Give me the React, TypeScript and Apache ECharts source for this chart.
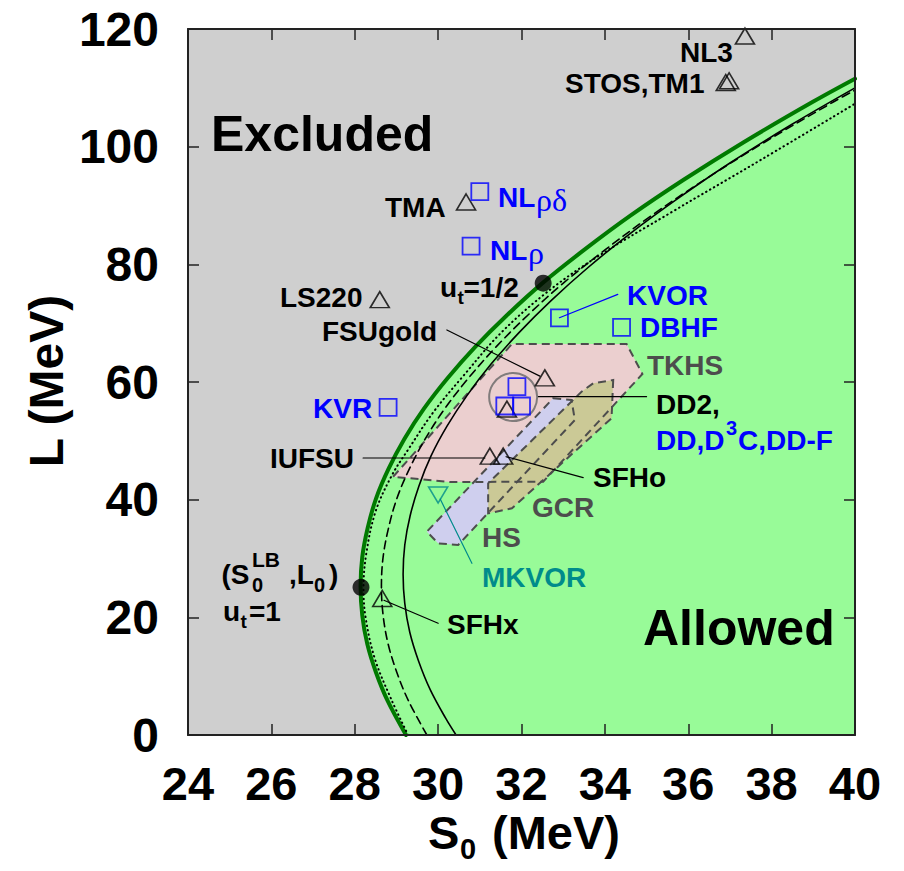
import React, { useEffect, useRef } from "react";
import * as echarts from "echarts";

// ---------------- data (S0 [MeV], L [MeV]) ----------------
const X_MIN = 24;
const X_MAX = 40;
const X_STEP = 2;
const Y_MIN = 0;
const Y_MAX = 120;
const Y_STEP = 20;

// unitary-gas lower bound (thick green)
const greenBound: number[][] = [
  [29.23, 0], [28.79, 5.79], [28.51, 10.63], [28.3, 15.49], [28.18, 20.37], [28.14, 25.28],
  [28.18, 30.22], [28.31, 35.18], [28.51, 40.19], [28.81, 45.23], [29.19, 50.32], [29.66, 55.47],
  [30.23, 60.68], [30.89, 65.97], [31.65, 71.35], [32.51, 76.85], [33.51, 82.49], [34.62, 88.31],
  [35.89, 94.37], [37.33, 100.76], [38.99, 107.63], [40.0, 111.55],
];
const solidCurve: number[][] = [
  [30.43, 0], [30.18, 2.86], [29.81, 7.71], [29.53, 12.58], [29.32, 17.46], [29.2, 22.38],
  [29.16, 27.32], [29.2, 32.29], [29.33, 37.3], [29.54, 42.34], [29.83, 47.43], [30.22, 52.57],
  [30.7, 57.77], [31.27, 63.04], [31.94, 68.39], [32.71, 73.84], [33.59, 79.42], [34.59, 85.15],
  [35.73, 91.08], [37.01, 97.26], [38.49, 103.81], [40.0, 110.0],
];
const dashedCurve: number[][] = [
  [29.73, 0], [29.29, 5.79], [29.01, 10.63], [28.8, 15.49], [28.68, 20.37], [28.64, 25.28],
  [28.68, 30.22], [28.81, 35.18], [29.01, 40.19], [29.31, 45.23], [29.69, 50.32], [30.16, 55.47],
  [30.73, 60.68], [31.39, 65.97], [32.15, 71.35], [33.01, 76.85], [34.01, 82.49], [35.12, 88.31],
  [36.39, 94.37], [37.83, 100.76], [39.49, 107.63], [40.0, 109.6],
];
const dottedCurve: number[][] = [
  [29.28, 0], [28.88, 6], [28.48, 13], [28.26, 20], [28.21, 25], [28.28, 31], [28.5, 38],
  [28.88, 44], [29.27, 48.4], [29.9, 55], [30.6, 61], [31.5, 68.3], [32.6, 75.2], [33.8, 81.2],
  [35.56, 88.7], [37.8, 98.0], [40.0, 107.3],
];

// shaded constraint regions
const tkhsRegion: number[][] = [
  [28.92, 43.9], [31.77, 66.46], [34.52, 66.46], [34.9, 61.36], [32.52, 43.05], [30.28, 43.0],
];
const hsRegion: number[][] = [
  [32.76, 57.23], [33.2, 56.94], [33.28, 53.54], [30.48, 32.3], [30.0, 32.58], [29.73, 34.56],
];
const gcrRegion: number[][] = [
  [34.2, 60.34], [34.16, 53.83], [31.77, 38.53], [31.2, 37.68], [31.2, 42.78], [33.44, 58.35], [33.72, 59.78],
];

// models
const triangleModels: number[][] = [
  [37.36, 118.8], // NL3
  [36.9, 110.9], // STOS
  [36.98, 111.2], // TM1
  [30.67, 90.6], // TMA
  [28.6, 74.0], // LS220
  [32.56, 60.7], // FSUgold
  [31.65, 55.4], // DD2
  [31.24, 47.4], // IUFSU
  [31.56, 47.4], // SFHo
  [28.66, 23.2], // SFHx
];
const squareModels: number[][] = [
  [31.0, 92.35], // NL rho delta
  [30.79, 83.1], // NL rho
  [32.91, 70.9], // KVOR
  [34.4, 69.3], // DBHF
  [28.8, 55.7], // KVR
  [31.89, 59.2], // DD
  [31.6, 55.92], // D3C
  [32.0, 55.92], // DD-F
];
const mkvorPoint: number[][] = [[30.0, 40.8]];
const utPoints: number[][] = [[28.15, 25.1], [32.52, 76.8]];
const clusterCircle: number[][] = [[31.8, 57.45]];

const leaderFSUgold: number[][] = [[30.21, 68.84], [32.44, 61.0]];
const leaderKVOR: number[][] = [[34.31, 74.9], [32.91, 70.93]];
const leaderDD2: number[][] = [[32.4, 57.5], [35.0, 57.5]];
const leaderIUFSU: number[][] = [[28.2, 47.08], [31.12, 47.08]];
const leaderSFHo: number[][] = [[33.48, 43.74], [31.63, 47.3]];
const leaderMKVOR: number[][] = [[30.05, 40.1], [30.81, 29.18]];
const leaderSFHx: number[][] = [[30.0, 18.99], [28.7, 22.9]];

// ---------------- chart ----------------
const FONT = '"Liberation Sans", Arial, Helvetica, sans-serif';
const SERIF = '"Liberation Serif", "DejaVu Serif", serif';
const BLUE = "#0000ff";
const TEAL = "#008b8b";
const GREY_TXT = "#4d4d4d";

function polygonSeries(points: number[][], style: any, z: number) {
  return {
    type: "custom",
    silent: true,
    z,
    clip: true,
    data: points,
    renderItem: (params: any, api: any) => {
      if (params.dataIndex !== 0) return null;
      const pts = points.map((p) => api.coord(p));
      return { type: "polygon", shape: { points: pts }, style };
    },
  };
}

function lineSeries(data: number[][], color: string, width: number, type: any, z: number, smooth: number | boolean = 0.35) {
  return {
    type: "line",
    data,
    silent: true,
    z,
    clip: true,
    symbol: "none",
    showSymbol: false,
    smooth,
    animation: false,
    lineStyle: { color, width, type, cap: "round" },
  };
}

function txt(text: string, x: number, y: number, size: number, color = "#000", weight: any = "bold", family = FONT, extra: any = {}) {
  return {
    type: "text",
    x,
    y,
    z: 100,
    silent: true,
    ...extra,
    style: {
      text,
      fill: color,
      fontSize: size,
      fontWeight: weight,
      fontFamily: family,
      lineHeight: Math.round(size * 0.78),
      align: extra.align || "left",
      textAlign: extra.align || "left",
      verticalAlign: "middle",
      textVerticalAlign: "middle",
    },
  };
}

export default function App() {
  const ref = useRef<HTMLDivElement>(null);

  useEffect(() => {
    if (!ref.current) return;
    const chart = echarts.init(ref.current, undefined, { renderer: "svg" });

    const axisLineStyle = { show: true, onZero: false, lineStyle: { color: "#222", width: 2 } };
    const tickStyle = { show: true, inside: true, length: 11, lineStyle: { color: "#222", width: 1.5 } };
    const labelStyle = { fontSize: 47, fontWeight: "bold", fontFamily: FONT, color: "#000", lineHeight: 36 };

    const xBase = { type: "value", min: X_MIN, max: X_MAX, interval: X_STEP, splitLine: { show: false }, z: 50, axisLine: axisLineStyle, axisTick: tickStyle };
    const yBase = { type: "value", min: Y_MIN, max: Y_MAX, interval: Y_STEP, splitLine: { show: false }, z: 50, axisLine: axisLineStyle, axisTick: tickStyle };

    const graphics: any[] = [
      txt("Excluded", 211, 134, 50),
      txt("Allowed", 643, 628, 50),
      txt("NL3", 680, 52, 28),
      txt("STOS,TM1", 565, 83, 28),
      txt("TMA", 385, 207, 28),
      txt("NL", 498, 197, 28, BLUE),
      txt("ρδ", 536, 200, 32, BLUE, "normal", SERIF),
      txt("NL", 490, 250, 28, BLUE),
      txt("ρ", 528, 253, 32, BLUE, "normal", SERIF),
      txt("u", 440, 287, 28),
      txt("t", 457.5, 297, 19),
      txt("=1/2", 463.5, 287, 28),
      txt("LS220", 280, 297, 28),
      txt("FSUgold", 322, 331, 28),
      txt("KVOR", 627, 295, 28, BLUE),
      txt("DBHF", 640, 327, 28, BLUE),
      txt("TKHS", 647, 365.5, 28, GREY_TXT),
      txt("DD2,", 656, 404, 28),
      txt("DD,D", 656, 440, 28, BLUE),
      txt("3", 726, 428, 20, BLUE),
      txt("C,DD-F", 738, 440, 28, BLUE),
      txt("KVR", 313, 408, 28, BLUE),
      txt("IUFSU", 270, 458, 28),
      txt("SFHo", 593, 477, 28),
      txt("GCR", 532, 507.5, 28, GREY_TXT),
      txt("HS", 482, 537, 28, GREY_TXT),
      txt("MKVOR", 482, 577.5, 28, TEAL),
      txt("SFHx", 447, 624, 28),
      txt("(S", 221.5, 574, 28),
      txt("LB", 252, 559, 21),
      txt("0", 252, 585, 20),
      txt(",L", 289, 574, 28),
      txt("0", 314, 585, 20),
      txt(")", 329, 574, 28),
      txt("u", 223, 611, 28),
      txt("t", 240.5, 621, 19),
      txt("=1", 249, 611, 28),
      // axis titles
      txt("S", 428, 832, 47),
      txt("0", 460, 849, 29),
      txt("(MeV)", 492, 832, 47),
      txt("L (MeV)", 46, 381, 48, "#000", "bold", FONT, { rotation: Math.PI / 2, align: "center" }),
    ];

    const option: any = {
      animation: false,
      backgroundColor: "#ffffff",
      grid: { left: 188, top: 29, width: 667, height: 706, show: true, backgroundColor: "#cfcfcf", borderWidth: 0 },
      xAxis: [
        { ...xBase, position: "bottom", axisLabel: { ...labelStyle, margin: 30 } },
        { ...xBase, position: "top", axisLabel: { show: false } },
      ],
      yAxis: [
        { ...yBase, position: "left", axisLabel: { ...labelStyle, fontSize: 48, margin: 29 } },
        { ...yBase, position: "right", axisLabel: { show: false } },
      ],
      series: [
        polygonSeries([...greenBound, [X_MAX, Y_MIN]], { fill: "#98fb98" }, 1),
        polygonSeries(tkhsRegion, { fill: "#ebcfcf" }, 2),
        polygonSeries(hsRegion, { fill: "#cfcfee" }, 2),
        polygonSeries(gcrRegion, { fill: "#cbc996" }, 2),
        polygonSeries(tkhsRegion, { fill: "none", stroke: "#4d4d4d", lineWidth: 2, lineDash: [8, 5] }, 3),
        polygonSeries(hsRegion, { fill: "none", stroke: "#4d4d4d", lineWidth: 2, lineDash: [8, 5] }, 3),
        polygonSeries(gcrRegion, { fill: "none", stroke: "#4d4d4d", lineWidth: 2, lineDash: [8, 5] }, 3),
        lineSeries(greenBound, "#007a00", 4, "solid", 4),
        lineSeries(dottedCurve, "#000", 2, [0.5, 4], 5),
        lineSeries(dashedCurve, "#000", 1.6, [8, 5], 5),
        lineSeries(solidCurve, "#000", 1.6, "solid", 5),
        lineSeries(leaderFSUgold, "#000", 1.2, "solid", 6, false),
        lineSeries(leaderKVOR, BLUE, 1.2, "solid", 6, false),
        lineSeries(leaderDD2, "#000", 1.2, "solid", 6, false),
        lineSeries(leaderIUFSU, "#000", 1.2, "solid", 6, false),
        lineSeries(leaderSFHo, "#000", 1.2, "solid", 6, false),
        lineSeries(leaderMKVOR, TEAL, 1.2, "solid", 6, false),
        lineSeries(leaderSFHx, "#000", 1.2, "solid", 6, false),
        {
          type: "scatter", data: clusterCircle, silent: true, z: 7, symbol: "circle", symbolSize: 48,
          itemStyle: { color: "rgba(0,0,0,0)", borderColor: "#666", borderWidth: 2 },
        },
        {
          type: "scatter", data: triangleModels, silent: true, z: 8, symbol: "triangle", symbolSize: [19, 16],
          itemStyle: { color: "rgba(0,0,0,0)", borderColor: "#000", borderWidth: 1.6 },
        },
        {
          type: "scatter", data: squareModels, silent: true, z: 8, symbol: "rect", symbolSize: 17,
          itemStyle: { color: "rgba(0,0,0,0)", borderColor: BLUE, borderWidth: 1.8 },
        },
        {
          type: "scatter", data: mkvorPoint, silent: true, z: 8, symbol: "triangle", symbolRotate: 180, symbolSize: [19, 16],
          itemStyle: { color: "rgba(0,0,0,0)", borderColor: TEAL, borderWidth: 1.6 },
        },
        {
          type: "scatter", data: utPoints, silent: true, z: 8, symbol: "circle", symbolSize: 17,
          itemStyle: { color: "#000" },
        },
      ],
      graphic: graphics,
    };

    chart.setOption(option);
    return () => chart.dispose();
  }, []);

  return (
    <div
      ref={ref}
      style={{ position: "absolute", left: 0, top: 0, width: 904, height: 871, background: "#fff" }}
    />
  );
}
